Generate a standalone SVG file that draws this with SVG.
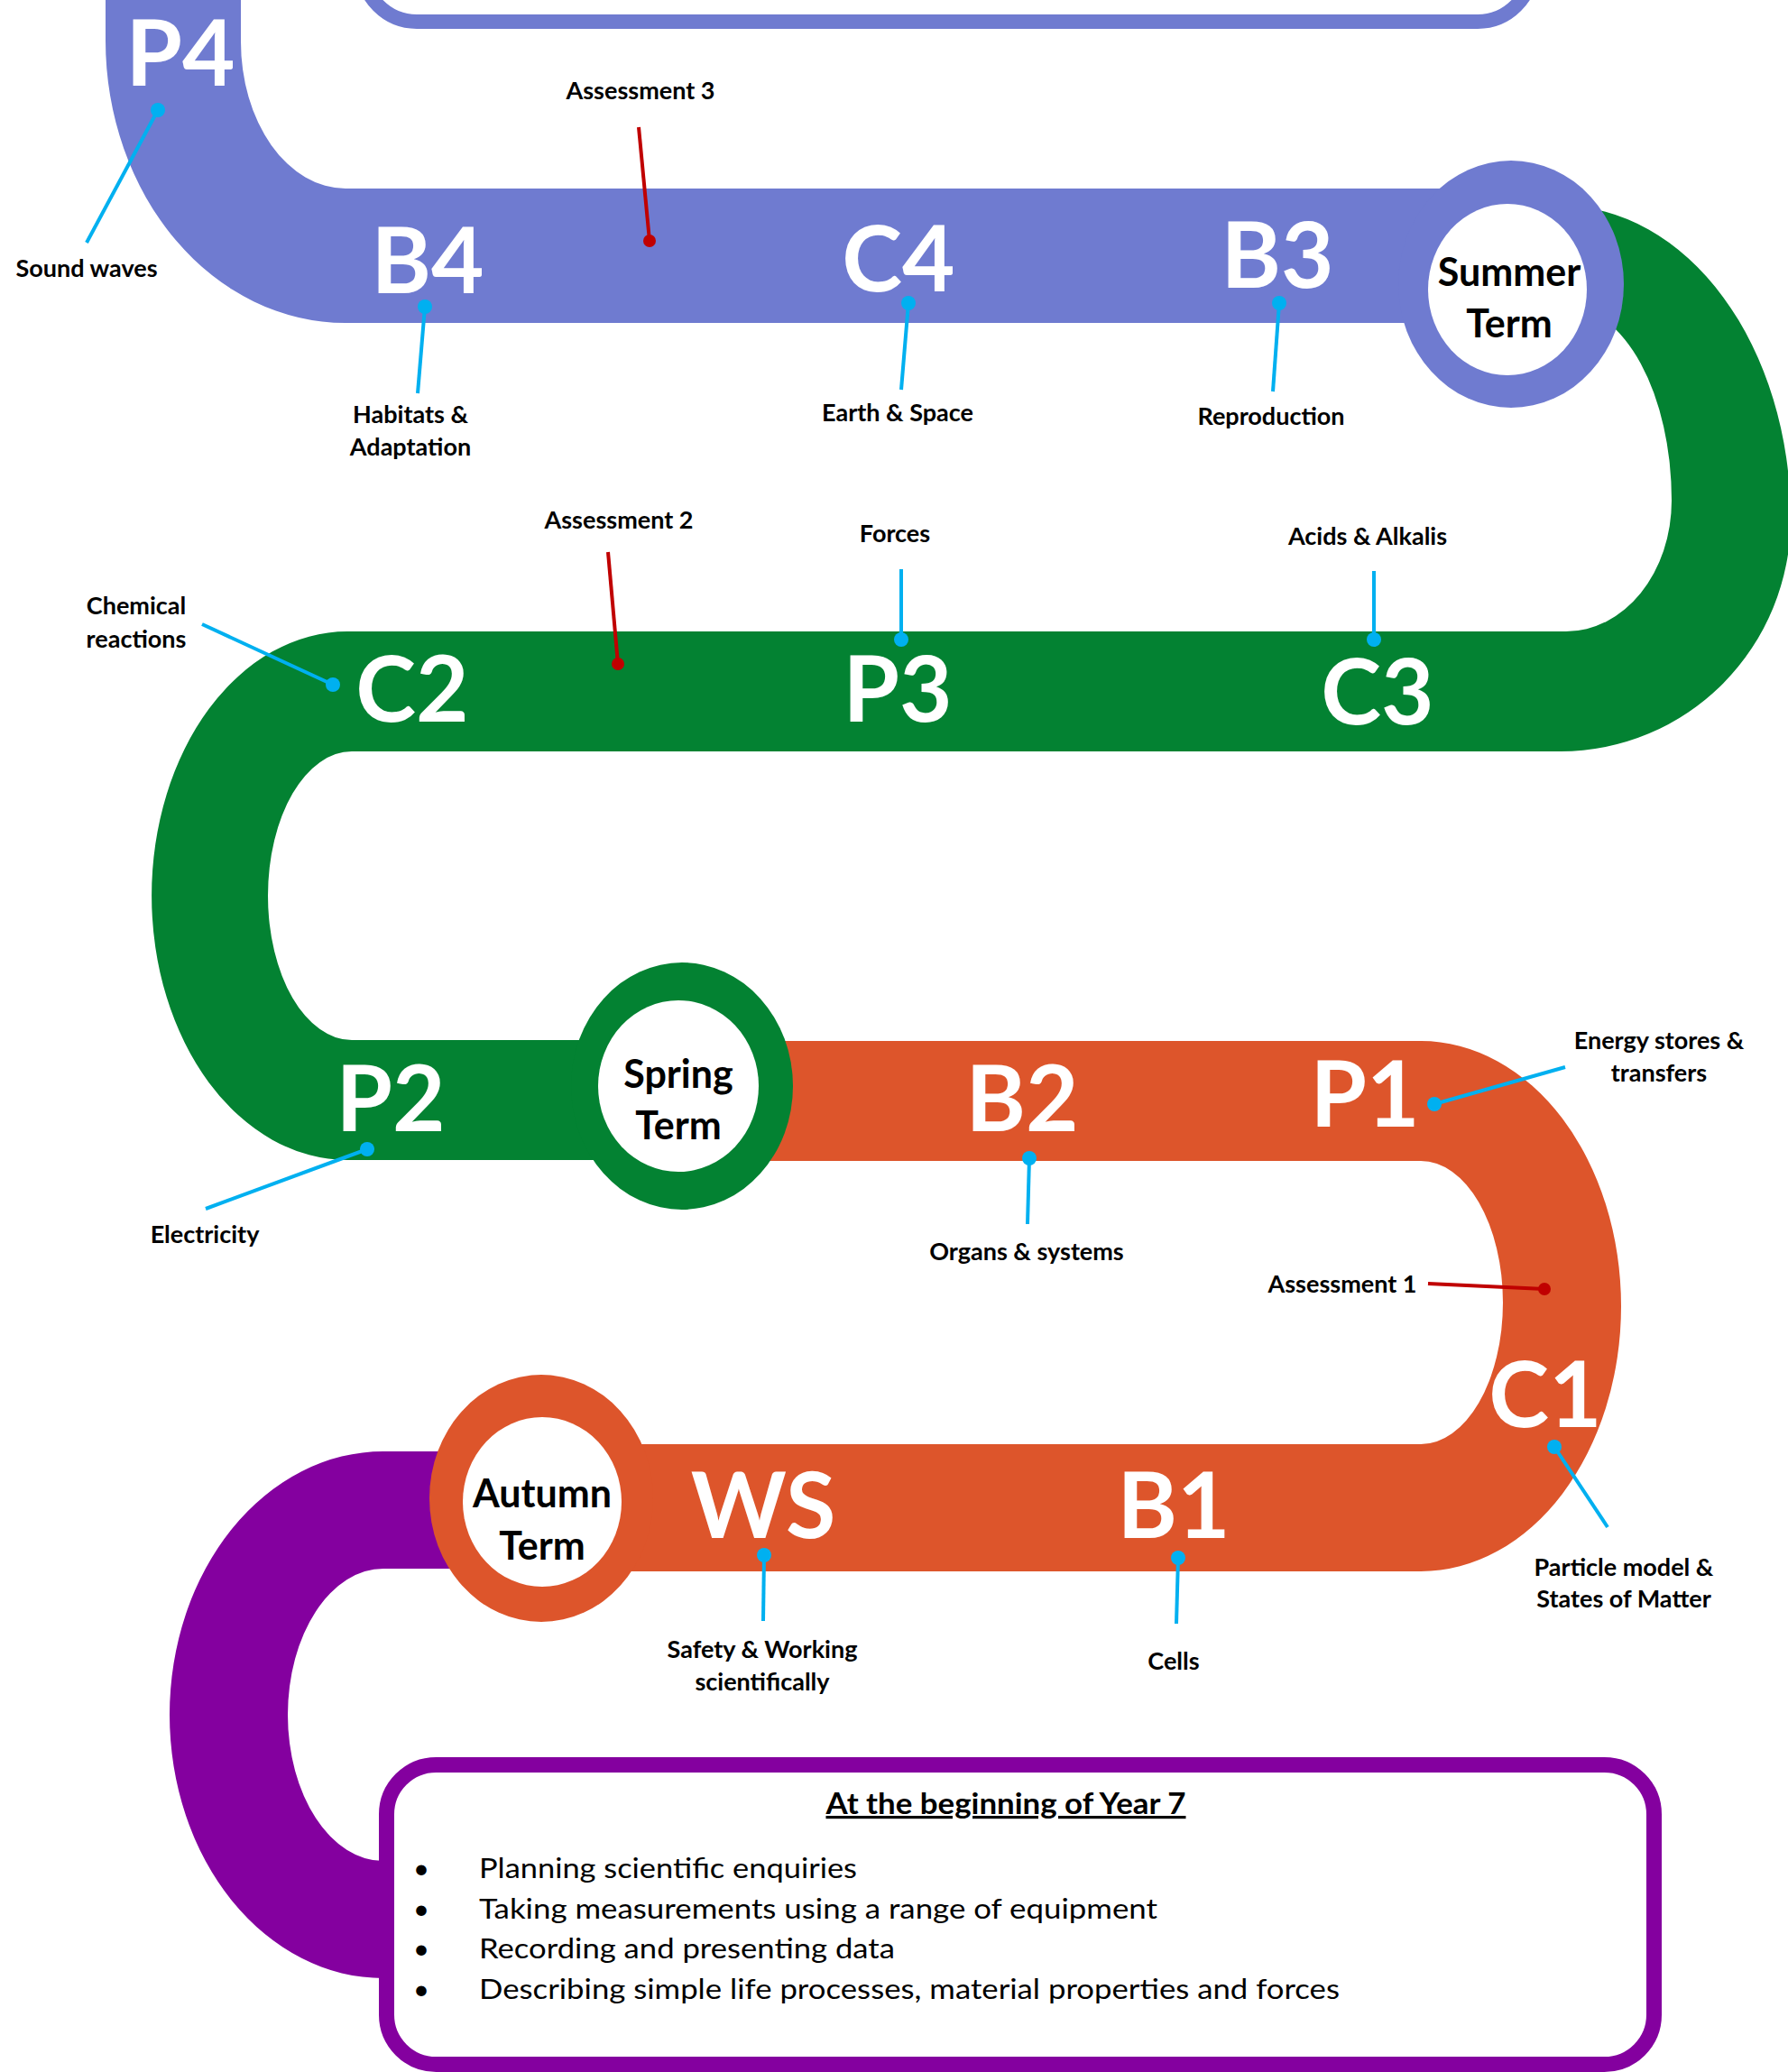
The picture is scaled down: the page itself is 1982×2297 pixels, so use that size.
<svg xmlns="http://www.w3.org/2000/svg" width="1982" height="2297" viewBox="0 0 1982 2297">
<style>
.big{font-family:Lato,"Liberation Sans",sans-serif;font-weight:bold;font-size:101px;fill:#fff;text-anchor:middle}
.term{font-family:Lato,"Liberation Sans",sans-serif;font-weight:bold;font-size:43px;fill:#000;text-anchor:middle}
.lbl{font-family:Lato,"Liberation Sans",sans-serif;font-weight:bold;font-size:27px;fill:#000;text-anchor:middle}
.body{font-family:Lato,"Liberation Sans",sans-serif;font-size:31px;fill:#000}
.title{font-family:Lato,"Liberation Sans",sans-serif;font-weight:bold;font-size:32px;fill:#000;text-anchor:middle;text-decoration:underline}
.cy{stroke:#00B0F0;stroke-width:4;fill:none}
.rd{stroke:#C00000;stroke-width:4;fill:none}
.cyd{fill:#00B0F0}
.rdd{fill:#C00000}
</style>
<rect width="1982" height="2297" fill="#fff"/>
<g id="track">
<path id="purple-track" fill="#84009F" d="M 600 1609 L 425 1609 A 237 292 0 0 0 425 2193 L 520 2193 L 520 2063 L 425 2063 A 106 162 0 0 1 425 1739 L 600 1739 Z"/>
<path id="orange-track" fill="#DD552B" d="M 750 1154 L 1575 1154 A 222 294 0 0 1 1575 1742 L 600 1742 L 600 1601 L 1575 1601 A 91 157 0 0 0 1575 1287 L 750 1287 Z"/>
<path id="green-track" fill="#038232" d="M 1600 228 L 1730 228 A 255 347 0 0 1 1985 575 A 255 258 0 0 1 1730 833 L 390 833 A 93 160 0 0 0 390 1153 L 760 1153 L 760 1286 L 385 1286 A 217 293 0 0 1 385 700 L 1736 700 A 117 145 0 0 0 1853 555 A 117 215 0 0 0 1736 340 L 1600 340 Z"/>
<path id="blue-track" fill="#6F7BD0" d="M 117 0 L 267 0 L 267 45 A 116 163 0 0 0 383 209 L 1680 209 L 1680 358 L 383 358 A 266 313 0 0 1 117 45 Z"/>
</g>
<g id="top-box"><rect x="402" y="-300" width="1296" height="324" rx="60" ry="60" fill="#fff" stroke="#6F7BD0" stroke-width="16"/></g>
<g id="summer-term">
<ellipse cx="1675" cy="315" rx="125" ry="137" fill="#6F7BD0"/>
<ellipse cx="1671" cy="321" rx="88" ry="95" fill="#fff"/>
<text class="term" x="1673" y="317">Summer</text>
<text class="term" x="1673" y="374">Term</text>
</g>
<g id="spring-term">
<ellipse cx="756" cy="1204" rx="123" ry="137" fill="#038232"/>
<ellipse cx="752" cy="1204" rx="89" ry="95" fill="#fff"/>
<text class="term" x="752" y="1206">Spring</text>
<text class="term" x="752" y="1263">Term</text>
</g>
<g id="autumn-term">
<ellipse cx="600" cy="1661" rx="124" ry="137" fill="#DD552B"/>
<ellipse cx="601" cy="1665" rx="88" ry="94" fill="#fff"/>
<text class="term" x="601" y="1671">Autumn</text>
<text class="term" x="601" y="1729">Term</text>
</g>
<g id="year7-box">
<rect x="428.5" y="1956.5" width="1405" height="332" rx="55" ry="55" fill="#fff" stroke="#84009F" stroke-width="17"/>
<text class="title" x="1115" y="2011" textLength="399" lengthAdjust="spacingAndGlyphs">At the beginning of Year 7</text>
<text class="body" x="458" y="2082">•</text><text class="body" x="531" y="2082" textLength="419" lengthAdjust="spacingAndGlyphs">Planning scientific enquiries</text>
<text class="body" x="458" y="2127">•</text><text class="body" x="531" y="2127" textLength="752" lengthAdjust="spacingAndGlyphs">Taking measurements using a range of equipment</text>
<text class="body" x="458" y="2171">•</text><text class="body" x="531" y="2171" textLength="461" lengthAdjust="spacingAndGlyphs">Recording and presenting data</text>
<text class="body" x="458" y="2216">•</text><text class="body" x="531" y="2216" textLength="954" lengthAdjust="spacingAndGlyphs">Describing simple life processes, material properties and forces</text>
</g>
<g id="topic-codes">
<text class="big" x="200" y="95">P4</text>
<text class="big" x="474" y="325">B4</text>
<text class="big" x="996" y="323">C4</text>
<text class="big" x="1416" y="319">B3</text>
<text class="big" x="457" y="800">C2</text>
<text class="big" x="995" y="800">P3</text>
<text class="big" x="1527" y="803">C3</text>
<text class="big" x="433" y="1254">P2</text>
<text class="big" x="1133" y="1254">B2</text>
<text class="big" x="1513" y="1249">P1</text>
<text class="big" x="1713" y="1582">C1</text>
<text class="big" x="846" y="1705">WS</text>
<text class="big" x="1301" y="1705">B1</text>
</g>
<g id="connectors">
<line class="cy" x1="175" y1="122" x2="96" y2="269"/><circle class="cyd" cx="175" cy="122" r="8"/>
<line class="cy" x1="471" y1="340" x2="463" y2="436"/><circle class="cyd" cx="471" cy="340" r="8"/>
<line class="cy" x1="1007" y1="336" x2="999" y2="432"/><circle class="cyd" cx="1007" cy="336" r="8"/>
<line class="cy" x1="1418" y1="336" x2="1411" y2="434"/><circle class="cyd" cx="1418" cy="336" r="8"/>
<line class="rd" x1="708" y1="141" x2="720" y2="267"/><circle class="rdd" cx="720" cy="267" r="7"/>
<line class="rd" x1="674" y1="612" x2="685" y2="736"/><circle class="rdd" cx="685" cy="736" r="7"/>
<line class="cy" x1="999" y1="631" x2="999" y2="709"/><circle class="cyd" cx="999" cy="709" r="8"/>
<line class="cy" x1="1523" y1="633" x2="1523" y2="709"/><circle class="cyd" cx="1523" cy="709" r="8"/>
<line class="cy" x1="224" y1="692" x2="369" y2="759"/><circle class="cyd" cx="369" cy="759" r="8"/>
<line class="cy" x1="1735" y1="1183" x2="1590" y2="1224"/><circle class="cyd" cx="1590" cy="1224" r="8"/>
<line class="cy" x1="407" y1="1274" x2="228" y2="1340"/><circle class="cyd" cx="407" cy="1274" r="8"/>
<line class="cy" x1="1141" y1="1284" x2="1139" y2="1357"/><circle class="cyd" cx="1141" cy="1284" r="8"/>
<line class="rd" x1="1583" y1="1423" x2="1712" y2="1429"/><circle class="rdd" cx="1712" cy="1429" r="7"/>
<line class="cy" x1="1723" y1="1604" x2="1782" y2="1693"/><circle class="cyd" cx="1723" cy="1604" r="8"/>
<line class="cy" x1="847" y1="1724" x2="846" y2="1797"/><circle class="cyd" cx="847" cy="1724" r="8"/>
<line class="cy" x1="1306" y1="1727" x2="1304" y2="1800"/><circle class="cyd" cx="1306" cy="1727" r="8"/>
</g>
<g id="labels">
<text class="lbl" x="96" y="307">Sound waves</text>
<text class="lbl" x="710" y="110">Assessment 3</text>
<text class="lbl" x="455" y="469">Habitats &amp;</text>
<text class="lbl" x="455" y="505">Adaptation</text>
<text class="lbl" x="995" y="467">Earth &amp; Space</text>
<text class="lbl" x="1409" y="471">Reproduction</text>
<text class="lbl" x="686" y="586">Assessment 2</text>
<text class="lbl" x="992" y="601">Forces</text>
<text class="lbl" x="1516" y="604">Acids &amp; Alkalis</text>
<text class="lbl" x="151" y="681">Chemical</text>
<text class="lbl" x="151" y="718">reactions</text>
<text class="lbl" x="1839" y="1163">Energy stores &amp;</text>
<text class="lbl" x="1839" y="1199">transfers</text>
<text class="lbl" x="227" y="1378">Electricity</text>
<text class="lbl" x="1138" y="1397">Organs &amp; systems</text>
<text class="lbl" x="1488" y="1433">Assessment 1</text>
<text class="lbl" x="1800" y="1747">Particle model &amp;</text>
<text class="lbl" x="1800" y="1782">States of Matter</text>
<text class="lbl" x="845" y="1838">Safety &amp; Working</text>
<text class="lbl" x="845" y="1874">scientifically</text>
<text class="lbl" x="1301" y="1851">Cells</text>
</g>
</svg>
